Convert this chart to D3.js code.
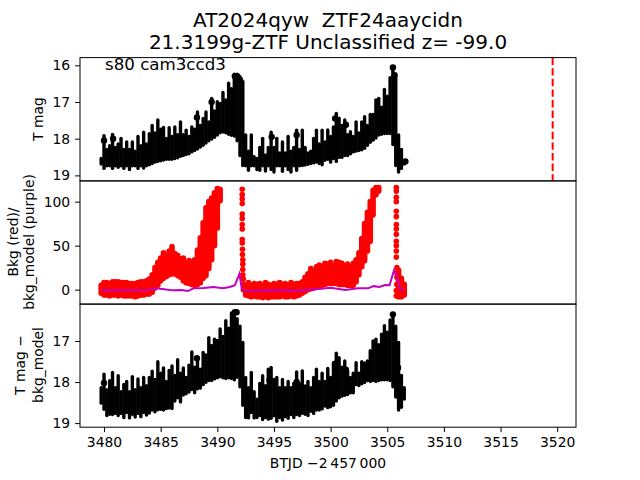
<!DOCTYPE html>
<html><head><meta charset="utf-8">
<script src="https://cdn.jsdelivr.net/npm/d3@7"></script>
<style>html,body{margin:0;padding:0;background:#fff}svg{display:block}text{font-family:"DejaVu Sans",sans-serif;fill:#000;white-space:pre}</style>
</head><body><svg id="c" width="640" height="480"></svg>
<script>
const titleLines = ["AT2024qyw  ZTF24aaycidn", "21.3199g-ZTF Unclassified z= -99.0"];
const sectorLabel = "s80 cam3ccd3";
const xLabel = "BTJD \u22122\u2009457\u2009000";
const xTicks = [3480,3485,3490,3495,3500,3505,3510,3515,3520];
const magTicks = [16,17,18,19];
const bkgTicks = [0,50,100];
const diffTicks = [17,18,19];
const markerTime = 3519.6;

const times = [3479.75,
3480,3480.25,3480.5,3480.75,3481,3481.25,3481.5,3481.75,3482,3482.25,3482.5,3482.75,3483,3483.25,3483.5,3483.75,
3484,3484.25,3484.5,3484.75,3485,3485.25,3485.5,3485.75,3486,3486.25,3486.5,3486.75,3487,3487.25,3487.5,3487.75,
3488,3488.25,3488.5,3488.75,3489,3489.25,3489.5,3489.75,3490,3490.25,3490.5,3490.75,3491,3491.25,3491.5,3491.75,
3492,3492.25,3492.5,3492.75,3493,3493.25,3493.5,3493.75,3494,3494.25,3494.5,3494.75,3495,3495.25,3495.5,3495.75,
3496,3496.25,3496.5,3496.75,3497,3497.25,3497.5,3497.75,3498,3498.25,3498.5,3498.75,3499,3499.25,3499.5,3499.75,
3500,3500.25,3500.5,3500.75,3501,3501.25,3501.5,3501.75,3502,3502.25,3502.5,3502.75,3503,3503.25,3503.5,3503.75,
3504,3504.25,3504.5,3504.75,3505,3505.25,3505.5,3505.75,
3506,3506.25,3506.5];

const magTop = [18.5,
17.88,18.25,18.15,17.84,18.2,18.1,17.95,18.25,18.05,18.25,18.05,18.3,17.9,18.15,17.78,18.1,
17.82,17.6,17.8,17.45,17.7,17.65,17.95,17.66,17.9,17.64,17.85,17.5,17.85,17.73,17.9,17.64,
17.7,17.23,17.6,17.41,17.23,17.5,16.86,17.2,16.95,17.0,16.7,16.9,16.45,16.6,16.2,16.2,
16.27,16.4,17.86,18.3,17.86,18.45,18.5,18.2,17.95,18.4,18.2,17.78,18.2,17.95,18.35,18.05,
18.35,17.9,18.3,18.2,17.73,18.25,17.73,18.2,18.35,18.3,17.95,17.73,18.1,17.73,18.05,17.72,
17.9,17.64,17.27,17.4,17.6,17.45,17.85,17.77,17.9,17.5,17.8,17.5,17.36,17.6,17.3,17.3,
16.9,16.86,17.1,16.62,16.8,16.3,16.0,16.3,
17.86,18.25,18.55];

const magBottom = [18.73,
18.85,18.78,18.78,18.85,18.78,18.82,18.78,18.85,18.78,18.88,18.78,18.78,18.85,18.78,18.84,18.78,
18.75,18.72,18.68,18.66,18.64,18.62,18.6,18.6,18.6,18.58,18.56,18.52,18.5,18.47,18.45,18.4,
18.36,18.32,18.27,18.22,18.16,18.1,18.05,18.0,17.94,17.88,17.86,17.88,17.92,17.95,17.97,18.1,
18.5,18.77,18.78,18.9,18.78,18.78,18.88,18.9,18.78,18.92,18.78,18.88,18.95,18.78,18.78,18.93,
18.78,18.88,18.95,18.78,18.9,18.78,18.77,18.76,18.74,18.72,18.7,18.68,18.72,18.75,18.63,18.6,
18.68,18.58,18.66,18.55,18.55,18.5,18.5,18.45,18.4,18.38,18.36,18.34,18.3,18.22,18.14,18.08,
18.02,17.94,17.92,17.9,17.9,17.9,18.2,18.77,
18.95,18.85,18.73];

const magBlobTime = [3480,3480.8,3488.2,3489.5,3491.55,3491.75,3492,3500.4,3501.35,3497,3494.8,3505.5,3505.65,3506.6];
const magBlobValue = [18.05,18.0,17.42,17.0,16.3,16.3,16.4,17.45,17.62,17.9,17.95,16.06,16.27,18.62];

const bkgHigh = [5,
8,8,7,9,9,9,8,8,8,7,7,7,8,9,9,10,
12,17,25,31,36,42,38,44,49,41,39,35,36,30,33,32,
34,45,59,76,93,100,104,110,115,114,null,null,null,null,null,null,
null,null,5,8,5,7,6,7,5,8,6,5,7,6,8,6,
7,5,8,6,7,7,9,14,18,24,21,26,28,25,30,29,
31,27,32,31,30,27,29,26,30,34,42,58,75,88,100,113,
116,116,null,null,null,null,null,null,
22,13,6];

const bkgLow = [-4,
-6,-6,-7,-6,-6,-7,-6,-7,-7,-7,-7,-8,-7,-6,-6,-5,
-5,-3,2,5,10,13,15,17,18,18,16,14,10,8,7,6,
5,6,8,13,16,24,34,50,70,101,null,null,null,null,null,null,
null,null,-6,-7,-8,-7,-8,-8,-9,-8,-9,-8,-8,-8,-8,-7,
-8,-8,-7,-8,-7,-6,-4,-2,0,1,2,3,4,5,6,7,
7,7,7,6,6,6,5,5,5,9,17,26,33,44,55,85,
108,112,null,null,null,null,null,null,
-8,-8,-6];

const spikeTime1 = [3492.2,3492.2,3492.2,3492.2,3492.2,3492.2,3492.2,3492.2,3492.2,3492.2,3492.22,3492.22,3492.25,3492.25,3492.25,3492.25,3492.3,3492.3,3492.3];
const spikeValue1 = [114,108,103,98,86,81,74,69,57,53,46,40,34,29,23,17,12,6,0];
const spikeTime2 = [3505.8,3505.8,3505.8,3505.8,3505.8,3505.8,3505.8,3505.8,3505.8,3505.8,3505.8,3505.8,3505.8,3505.85,3505.85,3505.85,3505.85,3505.8,3505.8];
const spikeValue2 = [116,112,105,100,89,83,74,69,63,55,50,44,37,25,19,14,6,-1,-7];

const modelTime = [3479.75,3481,3482.5,3484,3484.65,3485.3,3486.1,3486.8,3487.4,3487.9,3488.8,3489.65,3490.5,3491.1,3491.55,3491.95,3492.15,3492.35,3493.5,3495,3496.5,3497.45,3498.5,3500,3500.6,3501.3,3502.4,3503.3,3503.8,3504.3,3504.8,3505.2,3505.6,3505.8,3506.1,3506.4];
const modelValue = [-0.5,-0.6,-0.8,-0.3,1.5,0.5,-0.8,-0.5,-1.6,1.5,2,3,1.5,3,5,18,2.2,-1,-1.2,-0.8,-1,-0.9,0.3,2.2,1,-0.4,1.5,1.5,4,3,5.3,5,22,17.4,2,-1.6];

const diffTop = [18.1,
17.77,18.15,17.93,17.73,18.1,17.81,18.2,18.02,17.95,18.2,17.83,18.15,17.89,18.1,17.85,18.05,
17.85,17.7,17.9,17.47,17.75,17.62,17.95,17.68,17.57,17.8,17.42,17.75,17.62,17.85,17.55,17.23,
17.6,17.4,17.65,17.24,17.3,16.88,17.1,16.92,16.95,16.67,16.85,16.47,16.65,16.28,16.3,16.42,
16.6,17.0,17.85,18.1,17.73,18.2,18.38,18.0,17.81,18.05,17.65,17.61,17.9,17.85,18.1,17.9,
18.1,17.95,18.1,18.0,17.72,18.0,17.69,18.06,17.95,18.1,17.85,17.65,17.95,17.75,17.95,17.63,
17.85,17.5,17.26,17.37,17.6,17.45,17.7,17.85,17.75,17.49,17.75,17.47,17.5,17.45,17.2,16.96,
16.92,17.05,16.8,16.59,16.75,16.45,16.31,16.6,
17.0,17.8,18.1];

const diffBottom = [18.55,
18.7,18.85,18.82,18.83,18.8,18.85,18.8,18.9,18.78,18.91,18.82,18.89,18.8,18.88,18.78,18.84,
18.79,18.72,18.76,18.71,18.7,18.72,18.68,18.67,18.68,18.5,18.42,18.52,18.35,18.32,18.28,18.22,
18.3,18.2,18.18,18.1,18.04,18.0,18.0,17.96,17.93,17.91,17.93,17.95,17.93,17.95,17.98,17.92,
18.15,18.6,18.9,18.91,18.78,18.91,18.9,18.85,18.95,18.9,18.94,18.92,18.86,18.99,18.9,18.96,
18.88,18.92,18.83,18.9,18.83,18.85,18.8,18.82,18.85,18.75,18.8,18.72,18.72,18.69,18.62,18.66,
18.64,18.6,18.5,18.42,18.38,18.36,18.34,18.3,18.3,18.1,18.12,18.08,18.05,18.0,18.02,18.0,
18.02,18.0,17.98,17.98,17.98,18.0,18.15,18.4,
18.72,18.65,18.45];

const diffBlobTime = [3480,3488.2,3489.5,3491.55,3491.7,3500.4,3501.35,3494.6,3505.5,3505.95,3506.3,3497];
const diffBlobValue = [18.02,17.42,17.15,16.3,16.3,17.55,17.7,17.95,16.35,17.65,18.2,18.0];

const L = 80, R = 576;
const rows = [[57.6,180.9],[180.9,304.1],[304.1,427.2]];
const svg = d3.select("#c");
const x = d3.scaleLinear().domain([3477.88,3521.66]).range([L,R]);
const yMag = d3.scaleLinear().domain([15.79,19.15]).range(rows[0]);
const yBkg = d3.scaleLinear().domain([123.6,-16.4]).range(rows[1]);
const yDiff = d3.scaleLinear().domain([16.1,19.1]).range(rows[2]);

function clip(id,r){svg.append("clipPath").attr("id",id).append("rect").attr("x",L).attr("y",r[0]).attr("width",R-L).attr("height",r[1]-r[0]);}
clip("c0",rows[0]);clip("c1",rows[1]);clip("c2",rows[2]);

function errorBars(id,y,top,bot,bt,bv){
  const g = svg.append("g").attr("clip-path",`url(#${id})`);
  g.selectAll("line").data(times).join("line")
    .attr("x1",d=>x(d)).attr("x2",d=>x(d))
    .attr("y1",(d,i)=>y(top[i])+1.5).attr("y2",(d,i)=>y(bot[i])-1.5)
    .attr("stroke","#000").attr("stroke-width",3.4).attr("stroke-linecap","round");
  g.selectAll("circle").data(bt).join("circle")
    .attr("cx",d=>x(d)).attr("cy",(d,i)=>y(bv[i])).attr("r",3.2).attr("fill","#000");
}
errorBars("c0",yMag,magTop,magBottom,magBlobTime,magBlobValue);
errorBars("c2",yDiff,diffTop,diffBottom,diffBlobTime,diffBlobValue);

const red = svg.append("g").attr("clip-path","url(#c1)");
red.selectAll("line").data(times.filter((d,i)=>bkgHigh[i]!==null)).join("line")
  .attr("x1",d=>x(d)).attr("x2",d=>x(d))
  .attr("y1",d=>yBkg(bkgHigh[times.indexOf(d)])).attr("y2",d=>yBkg(bkgLow[times.indexOf(d)]))
  .attr("stroke","#f00").attr("stroke-width",5.6).attr("stroke-linecap","round");
red.selectAll("circle.a").data(spikeTime1).join("circle").attr("class","a")
  .attr("cx",d=>x(d)).attr("cy",(d,i)=>yBkg(spikeValue1[i])).attr("r",2.8).attr("fill","#f00");
red.selectAll("circle.b").data(spikeTime2).join("circle").attr("class","b")
  .attr("cx",d=>x(d)).attr("cy",(d,i)=>yBkg(spikeValue2[i])).attr("r",2.8).attr("fill","#f00");
red.append("path").datum(modelTime)
  .attr("d",d3.line().x(d=>x(d)).y((d,i)=>yBkg(modelValue[i])))
  .attr("fill","none").attr("stroke","#c000c0").attr("stroke-width",2);

svg.append("line").attr("x1",x(markerTime)).attr("x2",x(markerTime))
  .attr("y1",rows[0][0]).attr("y2",rows[0][1])
  .attr("stroke","#f00").attr("stroke-width",2).attr("stroke-dasharray","7.4,3.2");

rows.forEach(r=>svg.append("rect").attr("x",L).attr("y",r[0]).attr("width",R-L).attr("height",r[1]-r[0])
    .attr("fill","none").attr("stroke","#000").attr("stroke-width",1));

function yAxis(scale,ticks){
  const g = svg.append("g").attr("transform",`translate(${L},0)`)
    .call(d3.axisLeft(scale).tickValues(ticks).tickSize(4.9).tickPadding(4.9).tickFormat(d3.format("d")));
  g.select(".domain").remove();
  g.selectAll("text").attr("font-size",13.9).style("font-family",'"DejaVu Sans"');
  g.selectAll("line").attr("stroke","#000").attr("stroke-width",1);
}
yAxis(yMag,magTicks);yAxis(yBkg,bkgTicks);yAxis(yDiff,diffTicks);

const xg = svg.append("g").attr("transform",`translate(0,${rows[2][1]})`)
  .call(d3.axisBottom(x).tickValues(xTicks).tickSize(4.9).tickPadding(4.9).tickFormat(d3.format("d")));
xg.select(".domain").remove();
xg.selectAll("text").attr("font-size",13.9).style("font-family",'"DejaVu Sans"');
xg.selectAll("line").attr("stroke","#000").attr("stroke-width",1);

function txt(s,px,py,size,anchor,rot){
  const t = svg.append("text").attr("font-size",size).attr("text-anchor",anchor||"middle").text(s);
  if(rot) t.attr("transform",`translate(${px},${py}) rotate(-90)`); else t.attr("x",px).attr("y",py);
  return t;
}
txt(titleLines[0],328,27,20);
txt(titleLines[1],328,49,20);
txt(sectorLabel,105,70,16.67,"start");
txt(xLabel,328,468,13.9);
txt("T mag",43,119,13.9,"middle",true);
txt("Bkg (red)/",18,242,13.9,"middle",true);
txt("bkg_model (purple)",34,242,13.9,"middle",true);
txt("T mag \u2212",25,365,13.9,"middle",true);
txt("bkg_model",43,365,13.9,"middle",true);
</script></body></html>
